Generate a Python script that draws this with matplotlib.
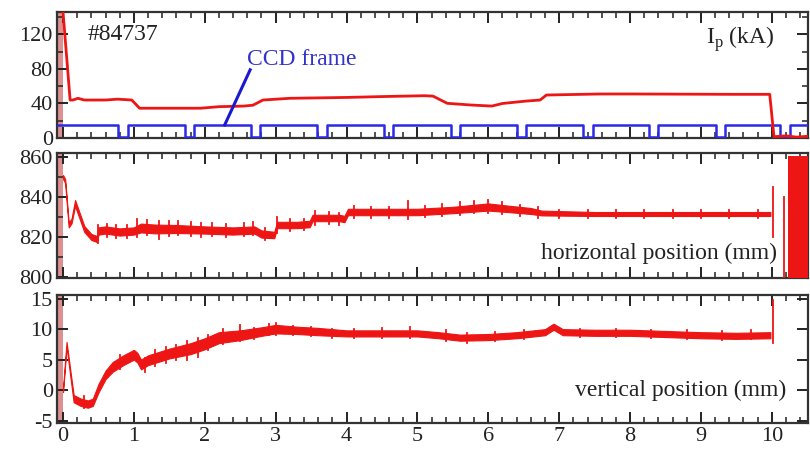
import numpy as np
import matplotlib
matplotlib.use("Agg")
import matplotlib.pyplot as plt
from matplotlib.ticker import MultipleLocator

plt.rcParams["font.family"] = ["Liberation Serif", "DejaVu Serif"]
plt.rcParams["mathtext.fontset"] = "custom"
plt.rcParams["mathtext.rm"] = "Liberation Serif"
plt.rcParams["axes.unicode_minus"] = False

RED = "#ee1515"
BLUE = "#2a2ae6"

# ---- plasma current I_p (kA) ----
ip_t = [0.0, 0.1, 0.14, 0.21, 0.3, 0.6, 0.77, 0.97, 1.08, 1.5, 1.94, 2.2, 2.55, 2.68,
        2.82, 3.2, 4.0, 4.5, 5.1, 5.22, 5.42, 5.76, 6.05, 6.2, 6.52, 6.73, 6.82, 7.57,
        8.04, 9.45, 9.97, 10.03, 10.2, 10.35, 10.5]
ip_v = [146, 44, 44, 46, 44, 44, 45, 44, 34.5, 34.5, 34.5, 36.3, 37, 38,
        44, 46, 47, 48, 49, 48.5, 40.2, 38.2, 37, 40, 42.7, 44, 49.8, 51,
        51, 50.6, 50.6, 1.5, 2.5, 1.0, 2.0]

# CCD frame gate: high level, low level, start of each gap and gap length
ccd_high = 15
ccd_low = 1
ccd_gap_start = [0.78, 1.72, 2.65, 3.59, 4.53, 5.47, 6.40, 7.34, 8.27, 9.21, 10.12]
ccd_gap_len = 0.13

# ---- horizontal position (mm): trace centre and half-width of its band ----
hp_t = [0.0, 0.03, 0.08, 0.12, 0.17, 0.22, 0.3, 0.4, 0.48, 0.5, 0.6, 0.8, 1.0, 1.1,
        1.3, 1.6, 2.0, 2.4, 2.7, 2.8, 2.98, 3.02, 3.3, 3.48, 3.52, 3.9, 3.97, 4.02,
        4.5, 5.0, 5.5, 6.0, 6.3, 6.6, 6.75, 7.5, 8.5, 9.5, 9.98]
hp_c = [850, 848, 826, 828, 837, 832, 824, 820, 819, 823, 823.5, 822.5, 823, 824.5,
        824, 824, 823.5, 823, 823.5, 821.5, 821, 826, 826, 826.5, 829.5, 829.5, 829, 832.5,
        832.5, 832.5, 833.5, 835, 834, 833, 832, 831.5, 831.5, 831.5, 831.5]
hp_w = [1.0, 1.0, 1.2, 1.2, 1.5, 1.5, 1.5, 1.5, 1.5, 1.8, 1.8, 1.8, 1.8, 2.2,
        2.2, 2.0, 1.8, 1.8, 1.8, 1.8, 1.6, 1.6, 1.6, 1.6, 1.6, 1.6, 1.6, 1.6,
        1.6, 1.6, 1.6, 1.8, 1.6, 1.5, 1.2, 1.0, 1.0, 1.0, 1.0]
# short excursions off the band: time, low, high
hp_spikes = [(0.5, 817, 826), (0.62, 820, 826.5), (0.75, 819.5, 826), (0.9, 819.5, 826),
             (1.05, 820, 829), (1.18, 821, 828.5), (1.35, 819, 828), (1.5, 820.5, 828),
             (1.62, 821, 828), (1.8, 820.5, 827.5), (1.95, 820, 827), (2.1, 820.5, 827),
             (2.3, 820, 826.5), (2.55, 820.5, 827), (2.68, 821, 827.5), (2.85, 818.5, 824.5),
             (3.02, 822, 830), (3.2, 823, 829), (3.4, 823.5, 829), (3.55, 826, 833),
             (3.75, 826.5, 832.5), (3.9, 826, 832), (4.1, 829.5, 835.5), (4.35, 829.5, 835),
             (4.6, 829.5, 835), (4.87, 829, 838), (5.1, 830, 835.5), (5.35, 830.5, 836.5),
             (5.6, 831, 837.5), (5.8, 832, 838), (6.0, 832, 838.5), (6.2, 831.5, 837.5),
             (6.45, 830.5, 836), (6.7, 829.5, 835), (7.0, 829.5, 833.5), (7.4, 829.5, 833.5),
             (7.8, 829.5, 833.5), (8.2, 829.5, 833.5), (8.6, 829.5, 833.5), (9.0, 829.5, 833.5),
             (9.4, 829.5, 833.5), (9.8, 829.5, 833.5),
             (10.01, 820, 845), (10.17, 799.5, 840)]
hp_block = (10.23, 10.51)

# ---- vertical position (mm) ----
vp_t = [0.0, 0.05, 0.1, 0.15, 0.25, 0.35, 0.42, 0.5, 0.6, 0.7, 0.85, 1.0, 1.05, 1.1,
        1.2, 1.5, 1.8, 2.0, 2.2, 2.5, 2.8, 3.0, 3.3, 3.6, 4.0, 4.5, 5.0, 5.3,
        5.6, 6.0, 6.4, 6.8, 6.92, 7.05, 7.5, 8.0, 8.5, 9.0, 9.5, 9.98]
vp_c = [0.0, 7.5, 3.0, -1.4, -2.0, -2.3, -2.0, 0.3, 2.5, 3.8, 4.9, 5.8, 5.3, 4.2,
        4.9, 6.0, 6.8, 7.6, 8.6, 9.0, 9.6, 10.0, 9.8, 9.6, 9.3, 9.3, 9.3, 9.0,
        8.6, 8.7, 9.0, 9.5, 10.4, 9.5, 9.4, 9.4, 9.2, 9.0, 8.9, 9.0]
vp_w = [0.3, 0.4, 0.5, 0.6, 0.6, 0.6, 0.6, 0.7, 0.7, 0.8, 0.8, 0.8, 0.8, 0.8,
        0.8, 0.8, 0.9, 0.9, 0.9, 0.8, 0.7, 0.7, 0.6, 0.6, 0.5, 0.5, 0.5, 0.5,
        0.5, 0.5, 0.5, 0.5, 0.5, 0.5, 0.5, 0.5, 0.5, 0.5, 0.5, 0.5]
vp_spikes = [(0.3, -3.0, -1.0), (0.8, 3.5, 5.8), (1.15, 3.0, 5.2), (1.3, 4.0, 6.6),
             (1.45, 4.5, 7.0), (1.6, 5.0, 7.4), (1.75, 5.0, 8.0), (1.9, 5.5, 8.5),
             (2.05, 6.5, 9.0), (2.25, 7.5, 10.0), (2.5, 8.0, 10.6), (2.7, 8.3, 10.2),
             (2.9, 9.0, 10.8), (3.0, 9.0, 11.0), (3.25, 9.0, 10.5), (3.5, 8.8, 10.3),
             (3.8, 8.6, 10.0), (4.1, 8.5, 10.0), (4.5, 8.5, 10.2), (4.9, 8.6, 10.4),
             (5.4, 8.0, 9.8), (5.7, 7.8, 9.4), (6.1, 8.0, 9.5), (6.5, 8.3, 9.8),
             (7.3, 8.7, 10.1), (7.8, 8.7, 10.0), (8.3, 8.5, 9.9), (8.8, 8.3, 9.8),
             (9.3, 8.2, 9.7), (9.7, 8.3, 9.8), (10.01, 7.7, 14.8)]

XLIM = (-0.085, 10.51)

fig = plt.figure(figsize=(8.1, 4.54), dpi=100)
left, width = 57 / 810, 751 / 810
ax1 = fig.add_axes([left, 316 / 454, width, 126 / 454])
ax2 = fig.add_axes([left, 176 / 454, width, 125 / 454])
ax3 = fig.add_axes([left, 31 / 454, width, 128 / 454])


def style(ax):
    ax.set_xlim(*XLIM)
    ax.xaxis.set_major_locator(MultipleLocator(1))
    ax.xaxis.set_minor_locator(MultipleLocator(0.2))
    ax.tick_params(which="both", direction="in", top=True, right=True,
                   labelsize=16, colors="#222222", pad=3)
    ax.tick_params(which="major", length=8, width=1.4)
    ax.tick_params(which="minor", length=4, width=1.1)
    for s in ax.spines.values():
        s.set_linewidth(1.6)
        s.set_color("#333333")
    # pre-discharge column
    ax.axvspan(XLIM[0], 0.0, color="#dd9090", lw=0, zorder=1)


for ax in (ax1, ax2, ax3):
    style(ax)

# top panel
ax1.set_ylim(0, 146)
ax1.yaxis.set_major_locator(MultipleLocator(40))
ax1.yaxis.set_minor_locator(MultipleLocator(20))
ccd_t = [XLIM[0]]
ccd_v = [ccd_high]
for g in ccd_gap_start:
    ccd_t += [g, g, g + ccd_gap_len, g + ccd_gap_len]
    ccd_v += [ccd_high, ccd_low, ccd_low, ccd_high]
ccd_t.append(XLIM[1])
ccd_v.append(ccd_high)
ax1.plot(ccd_t, ccd_v, color=BLUE, lw=1.8, zorder=3)
ax1.plot(ip_t, ip_v, color=RED, lw=2.0, zorder=4)
ax1.plot([2.28, 2.64], [ccd_high, 79], color="#1a1acc", lw=2.2, zorder=5)
ax1.text(2.6, 91, "CCD frame", color="#3333cc", fontsize=17, ha="left", va="center")
ax1.text(0.35, 120, "#84737", color="#222222", fontsize=17, ha="left", va="center")
ax1.text(10.04, 114, r"I$_{\rm p}$ (kA)", color="#222222", fontsize=17,
         ha="right", va="center")
ax1.tick_params(labelbottom=False)

# middle panel
ax2.set_ylim(799.5, 862)
ax2.yaxis.set_major_locator(MultipleLocator(20))
ax2.yaxis.set_minor_locator(MultipleLocator(10))
hc, hw = np.array(hp_c), np.array(hp_w)
ax2.fill_between(hp_t, hc - hw, hc + hw, color=RED, lw=0.8, ec=RED, zorder=3)
for t, lo, hi in hp_spikes:
    ax2.plot([t, t], [lo, hi], color=RED, lw=1.3, zorder=3)
ax2.axvspan(hp_block[0], hp_block[1], ymin=0, ymax=0.98, color=RED, lw=0, zorder=3)
ax2.text(10.07, 812, "horizontal position (mm)", color="#222222", fontsize=17,
         ha="right", va="center")
ax2.tick_params(labelbottom=False)

# bottom panel
ax3.set_ylim(-5.4, 15.6)
ax3.yaxis.set_major_locator(MultipleLocator(5))
vc, vw = np.array(vp_c), np.array(vp_w)
ax3.fill_between(vp_t, vc - vw, vc + vw, color=RED, lw=0.8, ec=RED, zorder=3)
for t, lo, hi in vp_spikes:
    ax3.plot([t, t], [lo, hi], color=RED, lw=1.3, zorder=3)
ax3.text(10.2, 0.0, "vertical position (mm)", color="#222222", fontsize=17,
         ha="right", va="center")

fig.savefig("out.png", dpi=100)
